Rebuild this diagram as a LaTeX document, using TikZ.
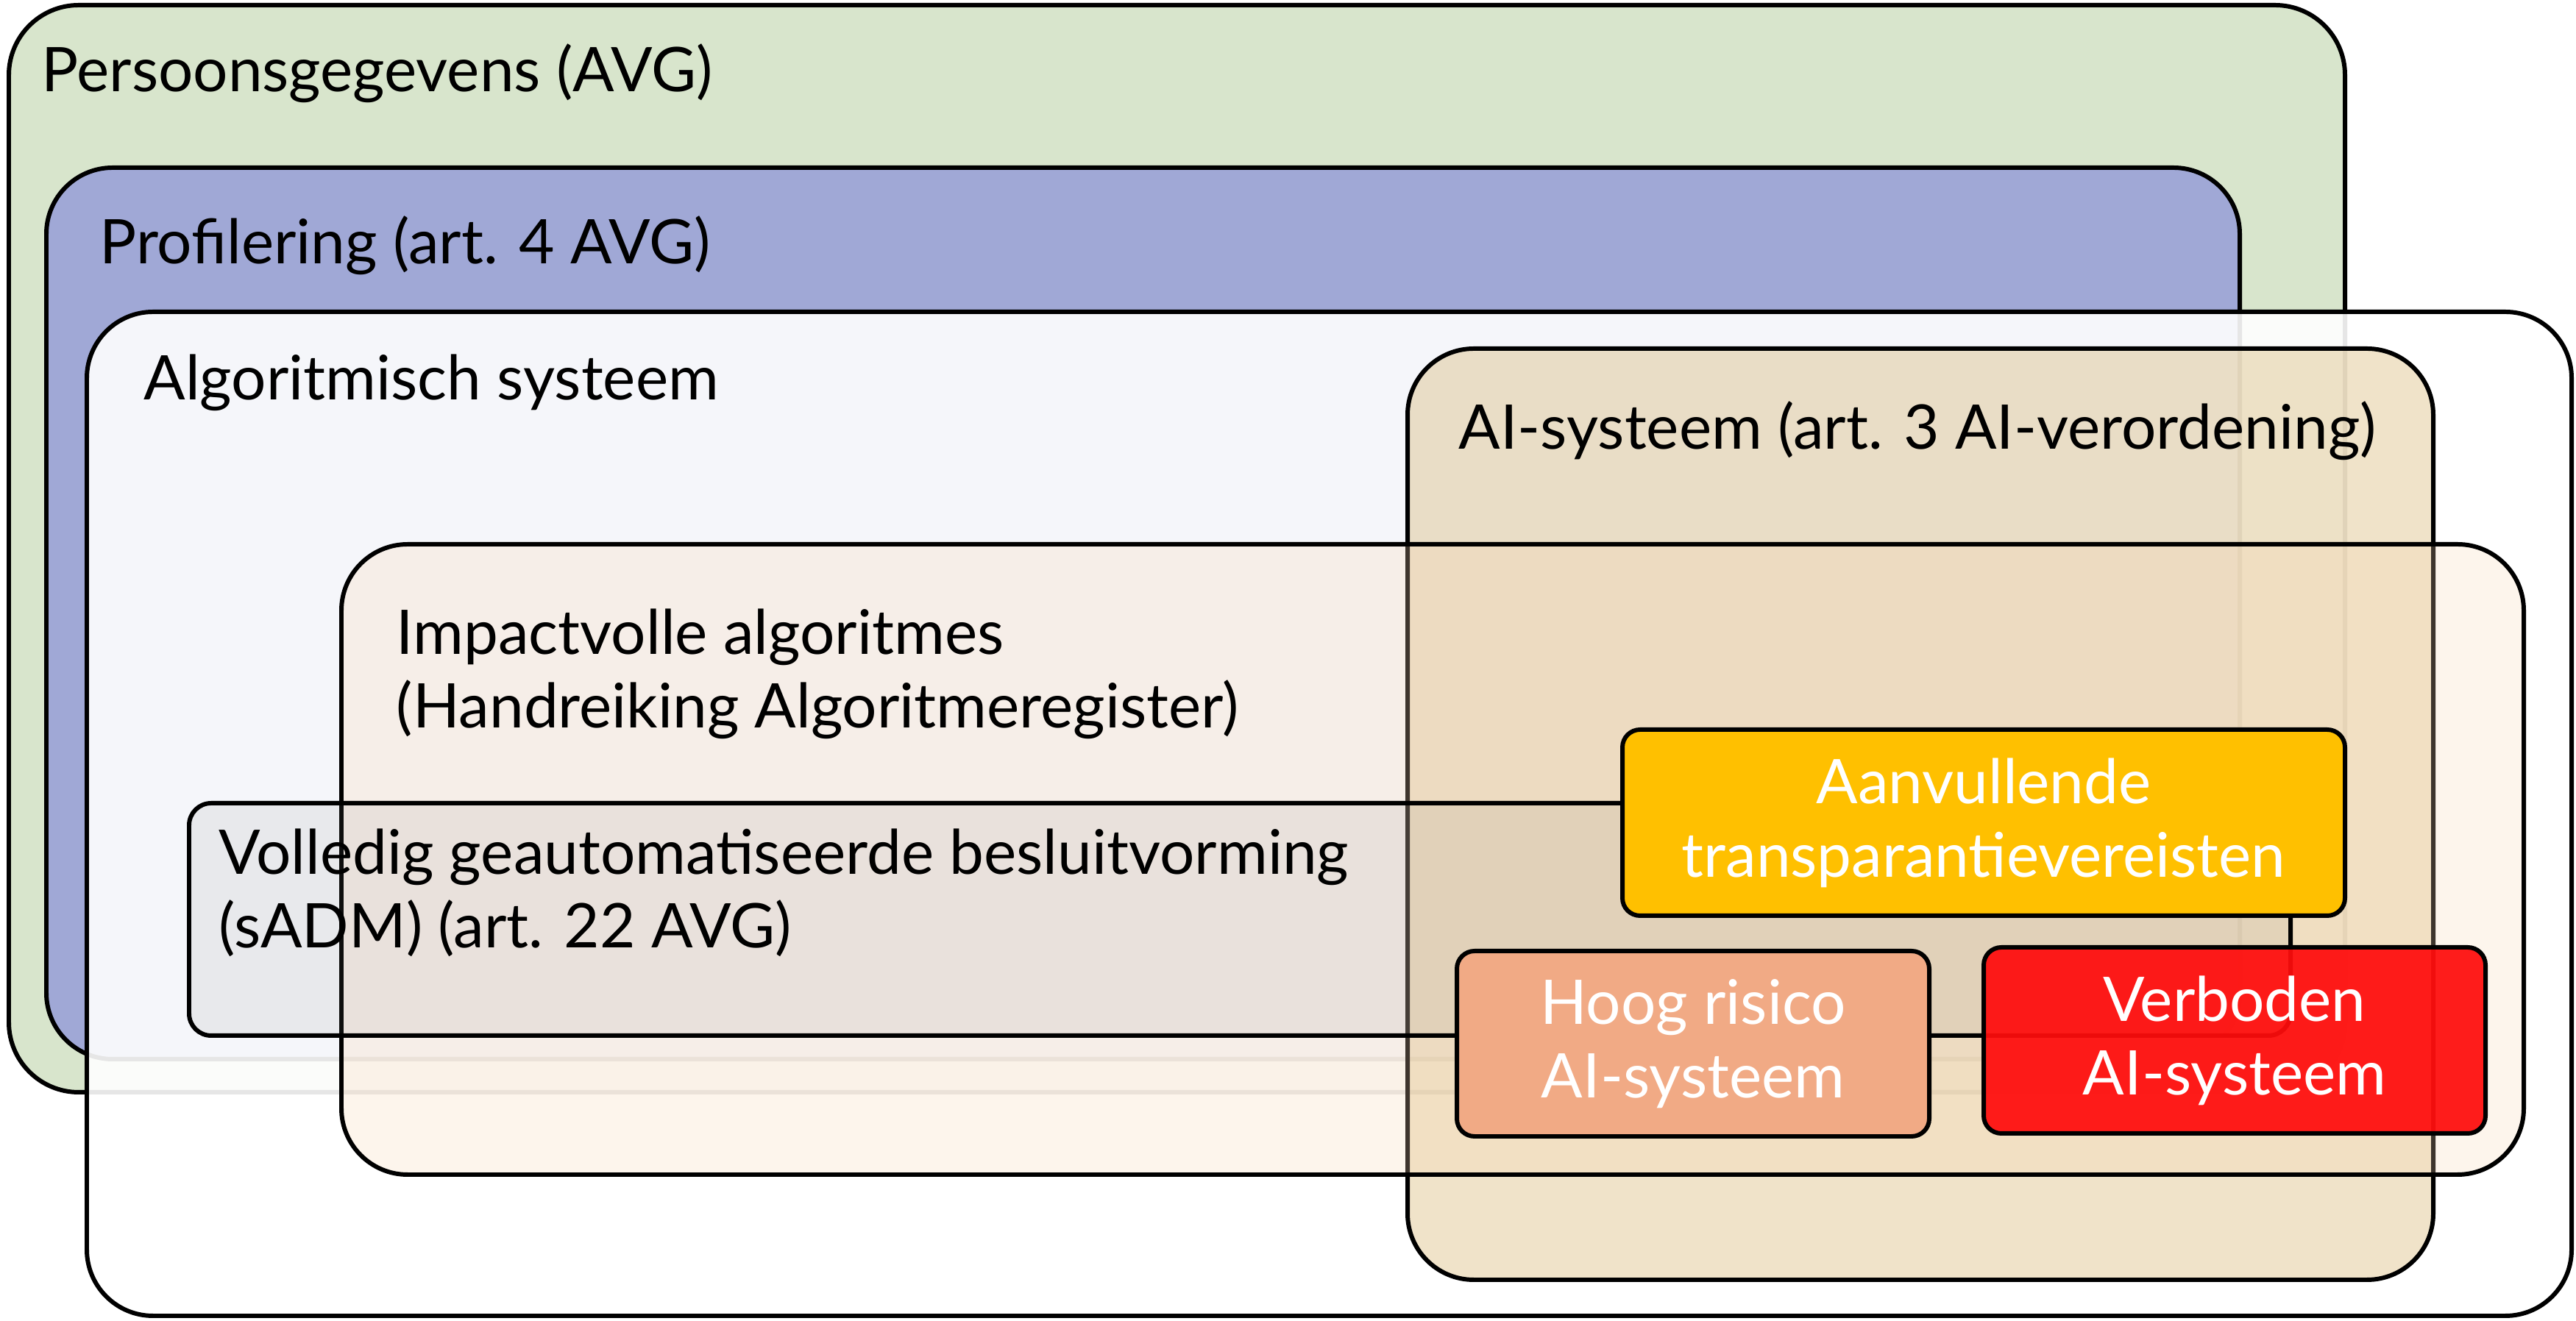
\documentclass[tikz,border=0pt]{standalone}
\usepackage{fontspec}
\setmainfont{Lato}
\usepackage{tikz}
\usepackage{xcolor}
\usetikzlibrary{calc, positioning}
\definecolor{avggreen}{RGB}{216, 229, 204}
\definecolor{profblue}{RGB}{160, 168, 214}
\definecolor{aitan}{RGB}{215, 180, 110}
\definecolor{impactpeach}{RGB}{250, 215, 180}
\definecolor{sadmgray}{RGB}{128, 128, 128}
\definecolor{extraamber}{RGB}{255, 192, 0}
\definecolor{hoogsalmon}{RGB}{241, 170, 133}
\definecolor{verbred}{RGB}{255, 12, 12}
\newcommand{\diagfont}{\fontsize{23.8}{28.5}\selectfont}

\begin{document}
\begin{tikzpicture}[
    area/.style={draw=black, line width=1.7pt, rounded corners=0.9cm,
                 anchor=south west, inner sep=0pt, outer sep=0pt},
    tag/.style={draw=black, line width=1.7pt, rounded corners=0.24cm,
                anchor=south west, inner sep=0pt, outer sep=0pt,
                text=white, text opacity=1, align=center, font=\diagfont},
    lbl/.style={anchor=base west, inner sep=0pt, align=left, font=\diagfont}
]
\useasboundingbox (0,0) rectangle (35.01,17.96);

% Persoonsgegevens
\node[area, rounded corners=0.95cm, fill=avggreen,
      minimum width=31.75cm, minimum height=14.78cm] (pers) at (0.12,3.11) {};
\node[lbl] (pers-lbl) at ($(pers.north west)+(0.44,-1.18)$) {Persoonsgegevens (AVG)};

% Profilering
\node[area, fill=profblue, minimum width=29.81cm, minimum height=12.12cm]
      (prof) at (0.63,3.56) {};
\node[lbl] (prof-lbl) at ($(prof.north west)+(0.72,-1.31)$) {Profilering (art. 4 AVG)};

% Algoritmisch systeem
\node[area, fill=white, fill opacity=0.9, minimum width=33.77cm, minimum height=13.65cm]
      (algo) at (1.18,0.07) {};
\node[lbl] (algo-lbl) at ($(algo.north west)+(0.77,-1.20)$) {Algoritmisch systeem};

% AI-systeem
\node[area, fill=aitan, fill opacity=0.37, minimum width=13.94cm, minimum height=12.66cm]
      (aisys) at (19.13,0.56) {};
\node[lbl] (aisys-lbl) at ($(aisys.north west)+(0.69,-1.37)$) {AI-systeem (art. 3 AI-verordening)};

% Impactvolle algoritmes (base = last line)
\node[area, fill=impactpeach, fill opacity=0.25, minimum width=29.66cm, minimum height=8.57cm]
      (impact) at (4.64,1.99) {};
\node[lbl] (impact-lbl) at ($(impact.north west)+(0.74,-2.50)$)
      {Impactvolle algoritmes\\(Handreiking Algoritmeregister)};

% sADM
\node[area, rounded corners=0.3cm, fill=sadmgray, fill opacity=0.11,
      minimum width=28.56cm, minimum height=3.16cm] (sadm) at (2.57,3.88) {};
\node[lbl] (sadm-lbl) at ($(sadm.north west)+(0.40,-1.97)$)
      {Volledig geautomatiseerde besluitvorming\\(sADM) (art. 22 AVG)};

% Gevolgen AI-verordening
\node[tag, fill=extraamber, minimum width=9.82cm, minimum height=2.53cm]
      (extra) at (22.05,5.51) {Aanvullende\\transparantievereisten};
\node[tag, fill=hoogsalmon, minimum width=6.42cm, minimum height=2.52cm]
      (hoog) at (19.80,2.51) {Hoog risico\\AI-systeem};
\node[tag, fill=verbred, fill opacity=0.93, minimum width=6.82cm, minimum height=2.53cm]
      (verb) at (26.96,2.55) {Verboden\\AI-systeem};

\end{tikzpicture}
\end{document}
